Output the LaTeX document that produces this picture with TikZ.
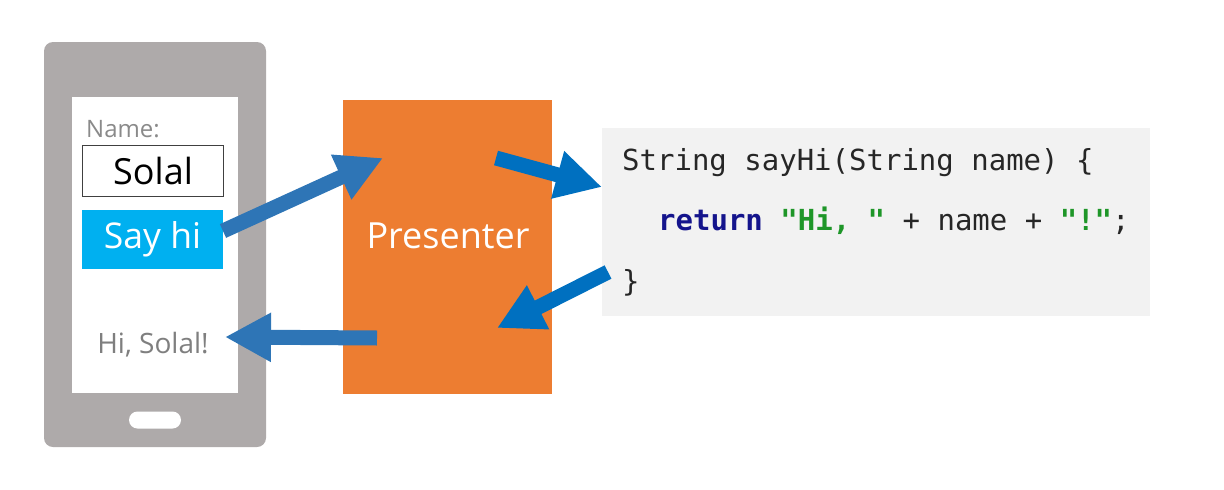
\documentclass[tikz,border=0pt]{standalone}
\usepackage{fontspec}
\setmainfont{Open Sans}
\setmonofont{DejaVu Sans Mono}
\usetikzlibrary{arrows.meta}
\definecolor{phonegray}{HTML}{AEAAAA}
\definecolor{boxborder}{HTML}{404040}
\definecolor{sayblue}{HTML}{00B0F0}
\definecolor{labelgray}{HTML}{8A8A8A}
\definecolor{replygray}{HTML}{7F7F7F}
\definecolor{presorange}{HTML}{ED7D31}
\definecolor{codebg}{HTML}{F2F2F2}
\definecolor{codetext}{HTML}{262626}
\definecolor{kwblue}{RGB}{20,20,140}
\definecolor{strgreen}{RGB}{30,150,40}
\definecolor{arrowA}{HTML}{2E75B6}
\definecolor{arrowB}{HTML}{0070C0}
\tikzset{
  bigarrow/.style={line width=15pt, -{Triangle[length=46pt,width=46pt]}},
  codeline/.style={anchor=base west, inner sep=0pt, text=codetext, font=\ttfamily\fontsize{29}{29}\selectfont},
}
\begin{document}
\begin{tikzpicture}[x=1pt,y=-1pt]
\useasboundingbox (0,0) rectangle (1224,490);
% phone
\node[draw=none, fill=phonegray, rounded corners=9pt, minimum width=222pt, minimum height=405pt, inner sep=0pt] (phone) at (155,244.5) {};
\node[fill=white, minimum width=166pt, minimum height=296pt, inner sep=0pt] (screen) at (155,245) {};
\node[fill=white, rounded corners=8.5pt, minimum width=52pt, minimum height=17pt, inner sep=0pt] (homebtn) at (155,420) {};
\node[anchor=base west, inner sep=0pt, text=labelgray, font=\fontsize{24}{24}\selectfont] (namelbl) at (86,137) {Name:};
\node[draw=boxborder, line width=1.6pt, minimum width=141pt, minimum height=51pt, inner sep=0pt, font=\fontsize{36}{36}\selectfont, text=black] (namebox) at (153,171) {Solal};
\node[fill=sayblue, minimum width=141pt, minimum height=59pt, inner sep=0pt, font=\fontsize{35.5}{36}\selectfont, text=white] (sayhi) at (152.5,239.5) {Say hi};
\node[inner sep=0pt, text=replygray, font=\fontsize{28}{28}\selectfont] (reply) at (153,345) {Hi, Solal!};
% presenter
\node[fill=presorange, minimum width=209pt, minimum height=294pt, inner sep=0pt] (presenter) at (447.5,247) {};
\node[inner sep=0pt, text=white, font=\fontsize{36}{36}\selectfont] (preslbl) at (448,236) {Presenter};
% code
\node[fill=codebg, minimum width=548pt, minimum height=188pt, inner sep=0pt] (code) at (876,222) {};
\node[codeline] (line1) at (622,170) {String sayHi(String name) \{};
\node[codeline] (line2) at (658,230) {{\bfseries\color{kwblue}return} {\bfseries\color{strgreen}"Hi, "} + name + {\bfseries\color{strgreen}"!"};};
\node[codeline] (line3) at (622,291) {\}};
% arrow ends
\coordinate (a1s) at (223,231);
\coordinate (a1e) at (383,158);
\coordinate (a2s) at (496,158);
\coordinate (a2e) at (602,187);
\coordinate (a3s) at (608,272);
\coordinate (a3e) at (497,328);
\coordinate (a4s) at (377,338);
\coordinate (a4e) at (225,337);
\draw[bigarrow, arrowA] (a1s) -- (a1e);
\draw[bigarrow, arrowB] (a2s) -- (a2e);
\draw[bigarrow, arrowB] (a3s) -- (a3e);
\draw[bigarrow, arrowA] (a4s) -- (a4e);
\end{tikzpicture}
\end{document}
